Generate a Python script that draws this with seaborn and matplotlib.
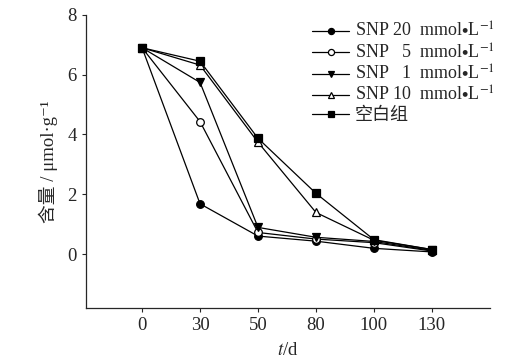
import numpy as np
import pandas as pd
import matplotlib
matplotlib.use("Agg")
import matplotlib.pyplot as plt
import seaborn as sns

days = ["0", "30", "50", "80", "100", "130"]
series_names = [
    "SNP 20  mmol$\\bullet$L$^{-1}$",
    "SNP   5  mmol$\\bullet$L$^{-1}$",
    "SNP   1  mmol$\\bullet$L$^{-1}$",
    "SNP 10  mmol$\\bullet$L$^{-1}$",
    "空白组",
]
snp20 = [6.9, 1.68, 0.60, 0.43, 0.19, 0.07]
snp5 = [6.9, 4.43, 0.72, 0.50, 0.38, 0.10]
snp1 = [6.9, 5.74, 0.89, 0.56, 0.42, 0.12]
snp10 = [6.9, 6.32, 3.74, 1.39, 0.46, 0.15]
blank = [6.9, 6.45, 3.87, 2.03, 0.48, 0.15]
values = [snp20, snp5, snp1, snp10, blank]

markers = ["o", "o", "v", "^", "s"]
msizes = [5.5, 5.5, 6, 6, 5.2]
facecolors = ["black", "white", "black", "white", "black"]

sns.set_style("ticks")
plt.rcParams["font.family"] = ["Liberation Serif", "Noto Sans CJK SC", "DejaVu Sans"]
plt.rcParams["mathtext.fontset"] = "stix"

rows = []
for name, vals in zip(series_names, values):
    for i, (d, v) in enumerate(zip(days, vals)):
        rows.append({"series": name, "pos": i, "day": d, "value": v})
df = pd.DataFrame(rows)

fig = plt.figure(figsize=(5.05, 3.63), dpi=100)
ax = fig.add_axes([0.170, 0.152, 0.800, 0.807])

for name, m, ms, fc in zip(series_names, markers, msizes, facecolors):
    sub = df[df["series"] == name]
    sns.lineplot(data=sub, x="pos", y="value", ax=ax, color="black",
                 linewidth=0.9, marker=m, markersize=ms,
                 markerfacecolor=fc, markeredgecolor="black",
                 markeredgewidth=0.9, label=name)

ax.set_xticks(range(len(days)))
ax.set_xticklabels(days)
ax.set_xlim(-0.97, 6.0)
ax.set_ylim(-1.8, 8)
ax.set_yticks([0, 2, 4, 6, 8])
ax.tick_params(axis="both", labelsize=13.5, length=3, width=0.8, direction="out")
for s in ["top", "right"]:
    ax.spines[s].set_visible(False)
for s in ["left", "bottom"]:
    ax.spines[s].set_linewidth(0.9)

ax.set_xlabel("$t$/d", fontsize=13.5, labelpad=6)
ax.set_ylabel("含量 / μmol·g⁻¹", fontsize=13.5, labelpad=7)

leg = ax.legend(loc="upper right", bbox_to_anchor=(1.03, 1.0), frameon=False,
                fontsize=13, labelspacing=0.12, handlelength=2.0,
                handletextpad=0.35, borderaxespad=0.0, markerscale=0.8)

fig.savefig("out.png", dpi=100)
